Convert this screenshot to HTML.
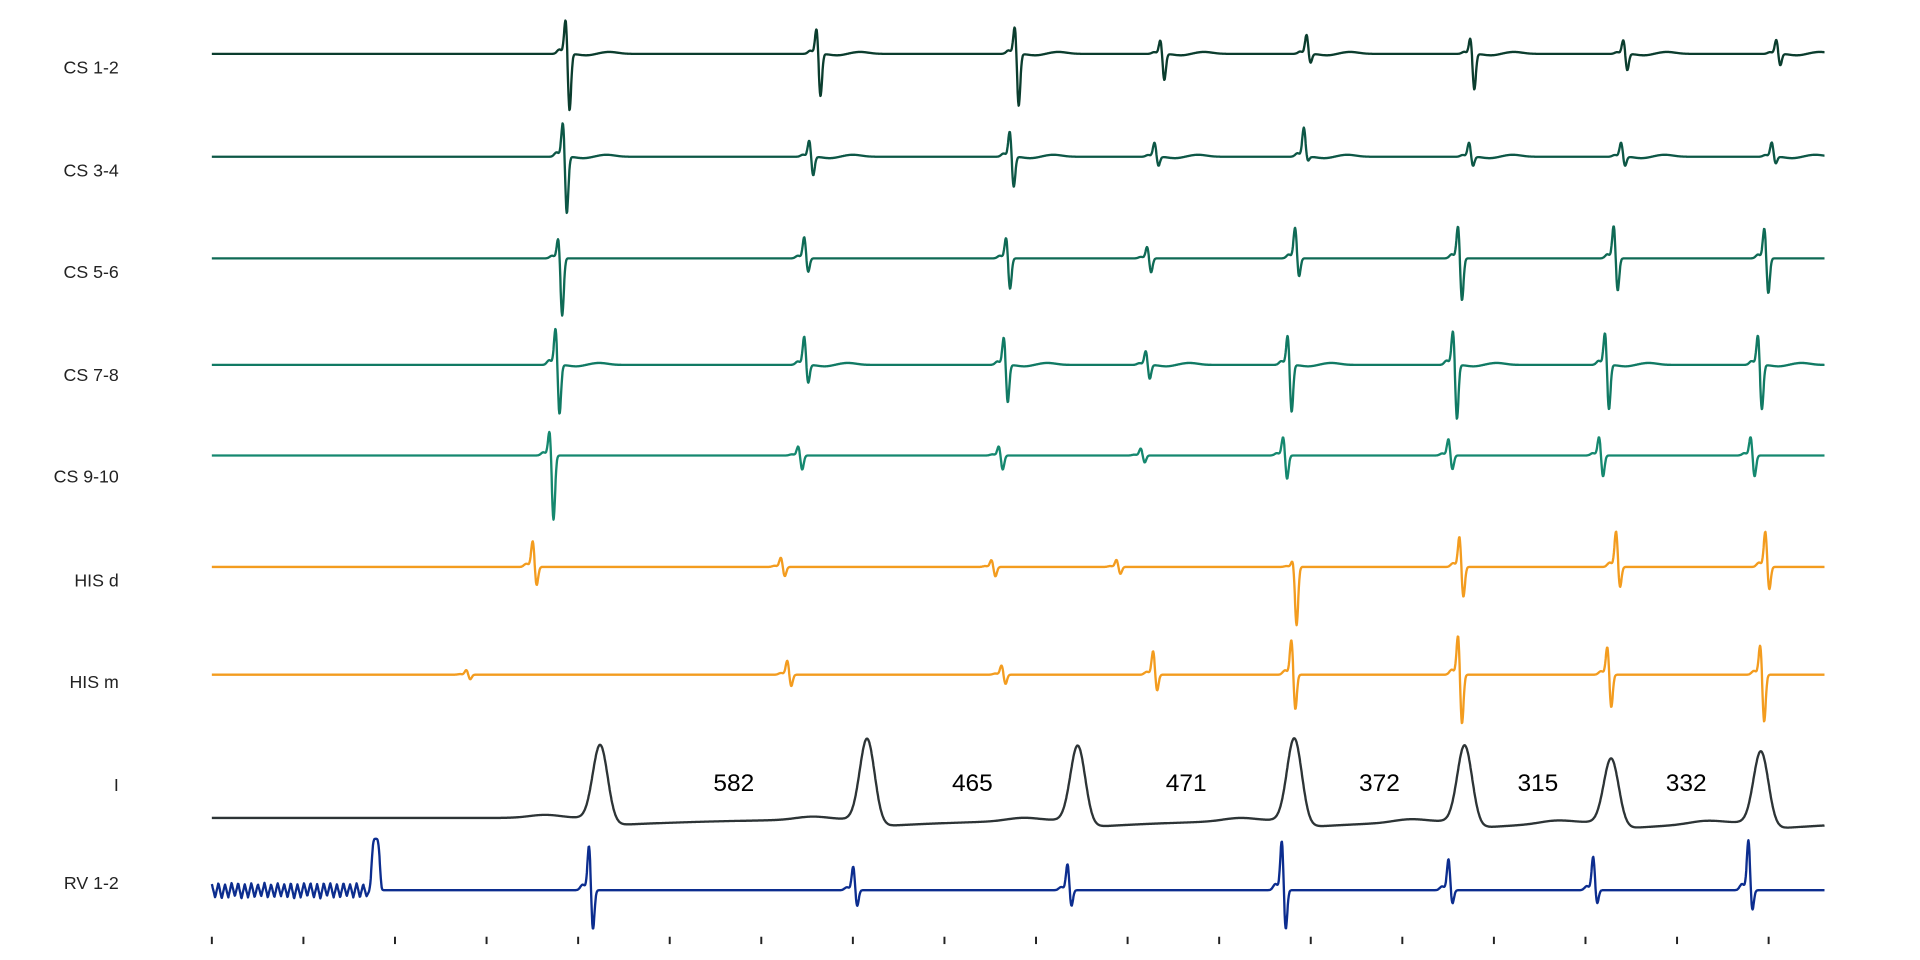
<!DOCTYPE html>
<html><head><meta charset="utf-8"><style>
html,body{margin:0;padding:0;background:#fff;}
svg{display:block;}
text{font-family:"Liberation Sans",sans-serif;}
</style></head><body>
<svg id="chart" width="1920" height="960" viewBox="0 0 1568 784" xmlns="http://www.w3.org/2000/svg">
<g id="labels"></g>
<g id="traces"></g>
<g id="ticks"></g>
<g id="intervals"></g>
</svg>
<script>
const channelNames = ["CS 1-2","CS 3-4","CS 5-6","CS 7-8","CS 9-10","HIS d","HIS m","I","RV 1-2"];
const channelColors = ["#0b3d2e","#0d5746","#0f6a55","#117a64","#15886f","#f39c1f","#f39c1f","#2d3436","#0c2d8f"];
// events: [time ms, up amplitude, down amplitude]
const cs12 = [[773,30,48],[1321,22,36],[1754,24,44],[2072,12,22],[2391,16,8],[2749,14,30],[3083,12,14],[3417,12,10]];
const cs34 = [[767,30,48],[1305,14,16],[1743,22,26],[2059,12,8],[2385,24,4],[2746,12,8],[3078,12,8],[3407,12,6]];
const cs56 = [[757,18,48],[1294,18,12],[1735,18,26],[2043,10,12],[2366,26,16],[2722,28,36],[3062,28,28],[3391,26,30]];
const cs78 = [[751,32,42],[1294,24,16],[1730,24,32],[2040,12,12],[2350,26,40],[2711,30,46],[3043,28,38],[3377,26,38]];
const cs910 = [[738,22,54],[1281,8,12],[1719,8,12],[2029,6,6],[2340,16,20],[2701,14,12],[3030,16,18],[3361,16,18]];
const hisd = [[701,22,16],[1243,8,8],[1703,6,8],[1976,6,6],[2361,6,48],[2725,26,26],[3067,30,18],[3393,30,20]];
const hism = [[556,4,4],[1257,12,10],[1725,8,8],[2056,20,14],[2358,30,30],[2722,34,42],[3048,24,28],[3382,26,40]];
const leadI = [[848,60],[1431,66],[1891,61],[2364,67],[2736,62],[3056,52],[3383,58]];
const rv = [[824,38,34],[1401,20,14],[1869,22,14],[2337,42,34],[2701,26,12],[3017,28,12],[3356,42,18]];
const rvPace = [[358,42]];
const rvNoise = [5,-6,6,-7,5,-6,6,-5,6,-7,5,-6,6,-6,5,-5,6,-6,5,-6,6,-5,5,-6,6,-7,5,-6,6,-5,6,-6,5,-7,6,-5,6,-6,5,-6,6,-5,5,-6,6,-6,5,-5];
const intervalValues = [582,465,471,372,315,332];
const intervalTimes = [1140,1661,2128,2550,2896,3220];
const tickTimes = [0,200,400,600,800,1000,1200,1400,1600,1800,2000,2200,2400,2600,2800,3000,3200,3400];

const baselines = [44,128,211,298,372,463,551,668,727];
const labelY = [55,139,222,306,389,474,557,641,721];
const T0=0,T1=3522,X0=173,X1=1490;
const xs = t => X0+(t-T0)/(T1-T0)*(X1-X0);
const g=(t,c,s)=>Math.exp(-((t-c)*(t-c))/(2*s*s));
const NS="http://www.w3.org/2000/svg";

function spikeSig(ev,t,tw){
  let v=0;
  for(const [c,u,d] of ev){
    if(Math.abs(t-c)>200) continue;
    v+=u*g(t,c,3.5)-d*g(t,c+8,3.5)+0.12*u*g(t,c-14,5);
    if(tw) v+=-1.2*g(t,c+45,15)+1.6*g(t,c+95,18);
  }
  return v;
}
function sigI(t){
  let v=0;
  for(const [c,h] of leadI){
    v+=h*g(t,c,16);
    const on=1/(1+Math.exp(-(t-c-25)/8));
    v-=6*on*Math.exp(-Math.max(0,t-c-25)/300);
    v+=2.5*g(t,c-120,35);
  }
  return v;
}
function sigRV(t){
  let v=spikeSig(rv,t,false);
  for(const [c,h] of rvPace){ v+=h*Math.exp(-Math.pow(Math.abs(t-c)/10,4)); }
  if(t<345){ const k=t/345*rvNoise.length; const i=Math.floor(k); const f=k-i;
    v+=(rvNoise[i]||0)*(1-f)+(rvNoise[i+1]||0)*f; }
  return v;
}
const sigs=[t=>spikeSig(cs12,t,true),t=>spikeSig(cs34,t,true),t=>spikeSig(cs56,t,false),t=>spikeSig(cs78,t,true),t=>spikeSig(cs910,t,false),t=>spikeSig(hisd,t,false),t=>spikeSig(hism,t,false),sigI,sigRV];
const traceNames=["cs-1-2-trace","cs-3-4-trace","cs-5-6-trace","cs-7-8-trace","cs-9-10-trace","his-d-trace","his-m-trace","lead-i-trace","rv-1-2-trace"];

const tg=document.getElementById('traces'), lg=document.getElementById('labels');
for(let k=0;k<channelNames.length;k++){
  let d="";
  for(let t=T0;t<=T1;t+=1){ const y=baselines[k]-sigs[k](t); d+=(t===T0?"M":"L")+xs(t).toFixed(1)+","+y.toFixed(1); }
  const p=document.createElementNS(NS,'path');
  p.setAttribute('d',d);p.setAttribute('fill','none');p.setAttribute('stroke',channelColors[k]);
  p.setAttribute('stroke-width','1.9');p.setAttribute('stroke-linejoin','round');
  
  
  tg.appendChild(p);
  const tx=document.createElementNS(NS,'text');
  tx.setAttribute('x',97);tx.setAttribute('y',labelY[k]+5);tx.setAttribute('text-anchor','end');
  tx.setAttribute('font-size','14.5');tx.setAttribute('fill','#222');tx.textContent=channelNames[k];
  
  
  lg.appendChild(tx);
}
const tk=document.getElementById('ticks');
for(const t of tickTimes){
  const l=document.createElementNS(NS,'line');
  l.setAttribute('x1',xs(t));l.setAttribute('x2',xs(t));l.setAttribute('y1',765);l.setAttribute('y2',771);
  l.setAttribute('stroke','#222');l.setAttribute('stroke-width','1.6');
  
  
  tk.appendChild(l);
}
const ig=document.getElementById('intervals');
for(let i=0;i<intervalValues.length;i++){
  const tx=document.createElementNS(NS,'text');
  tx.setAttribute('x',xs(intervalTimes[i]));tx.setAttribute('y',646);tx.setAttribute('text-anchor','middle');
  tx.setAttribute('font-size','20');tx.setAttribute('fill','#000');tx.textContent=intervalValues[i];
  
  
  ig.appendChild(tx);
}
</script>
</body></html>
